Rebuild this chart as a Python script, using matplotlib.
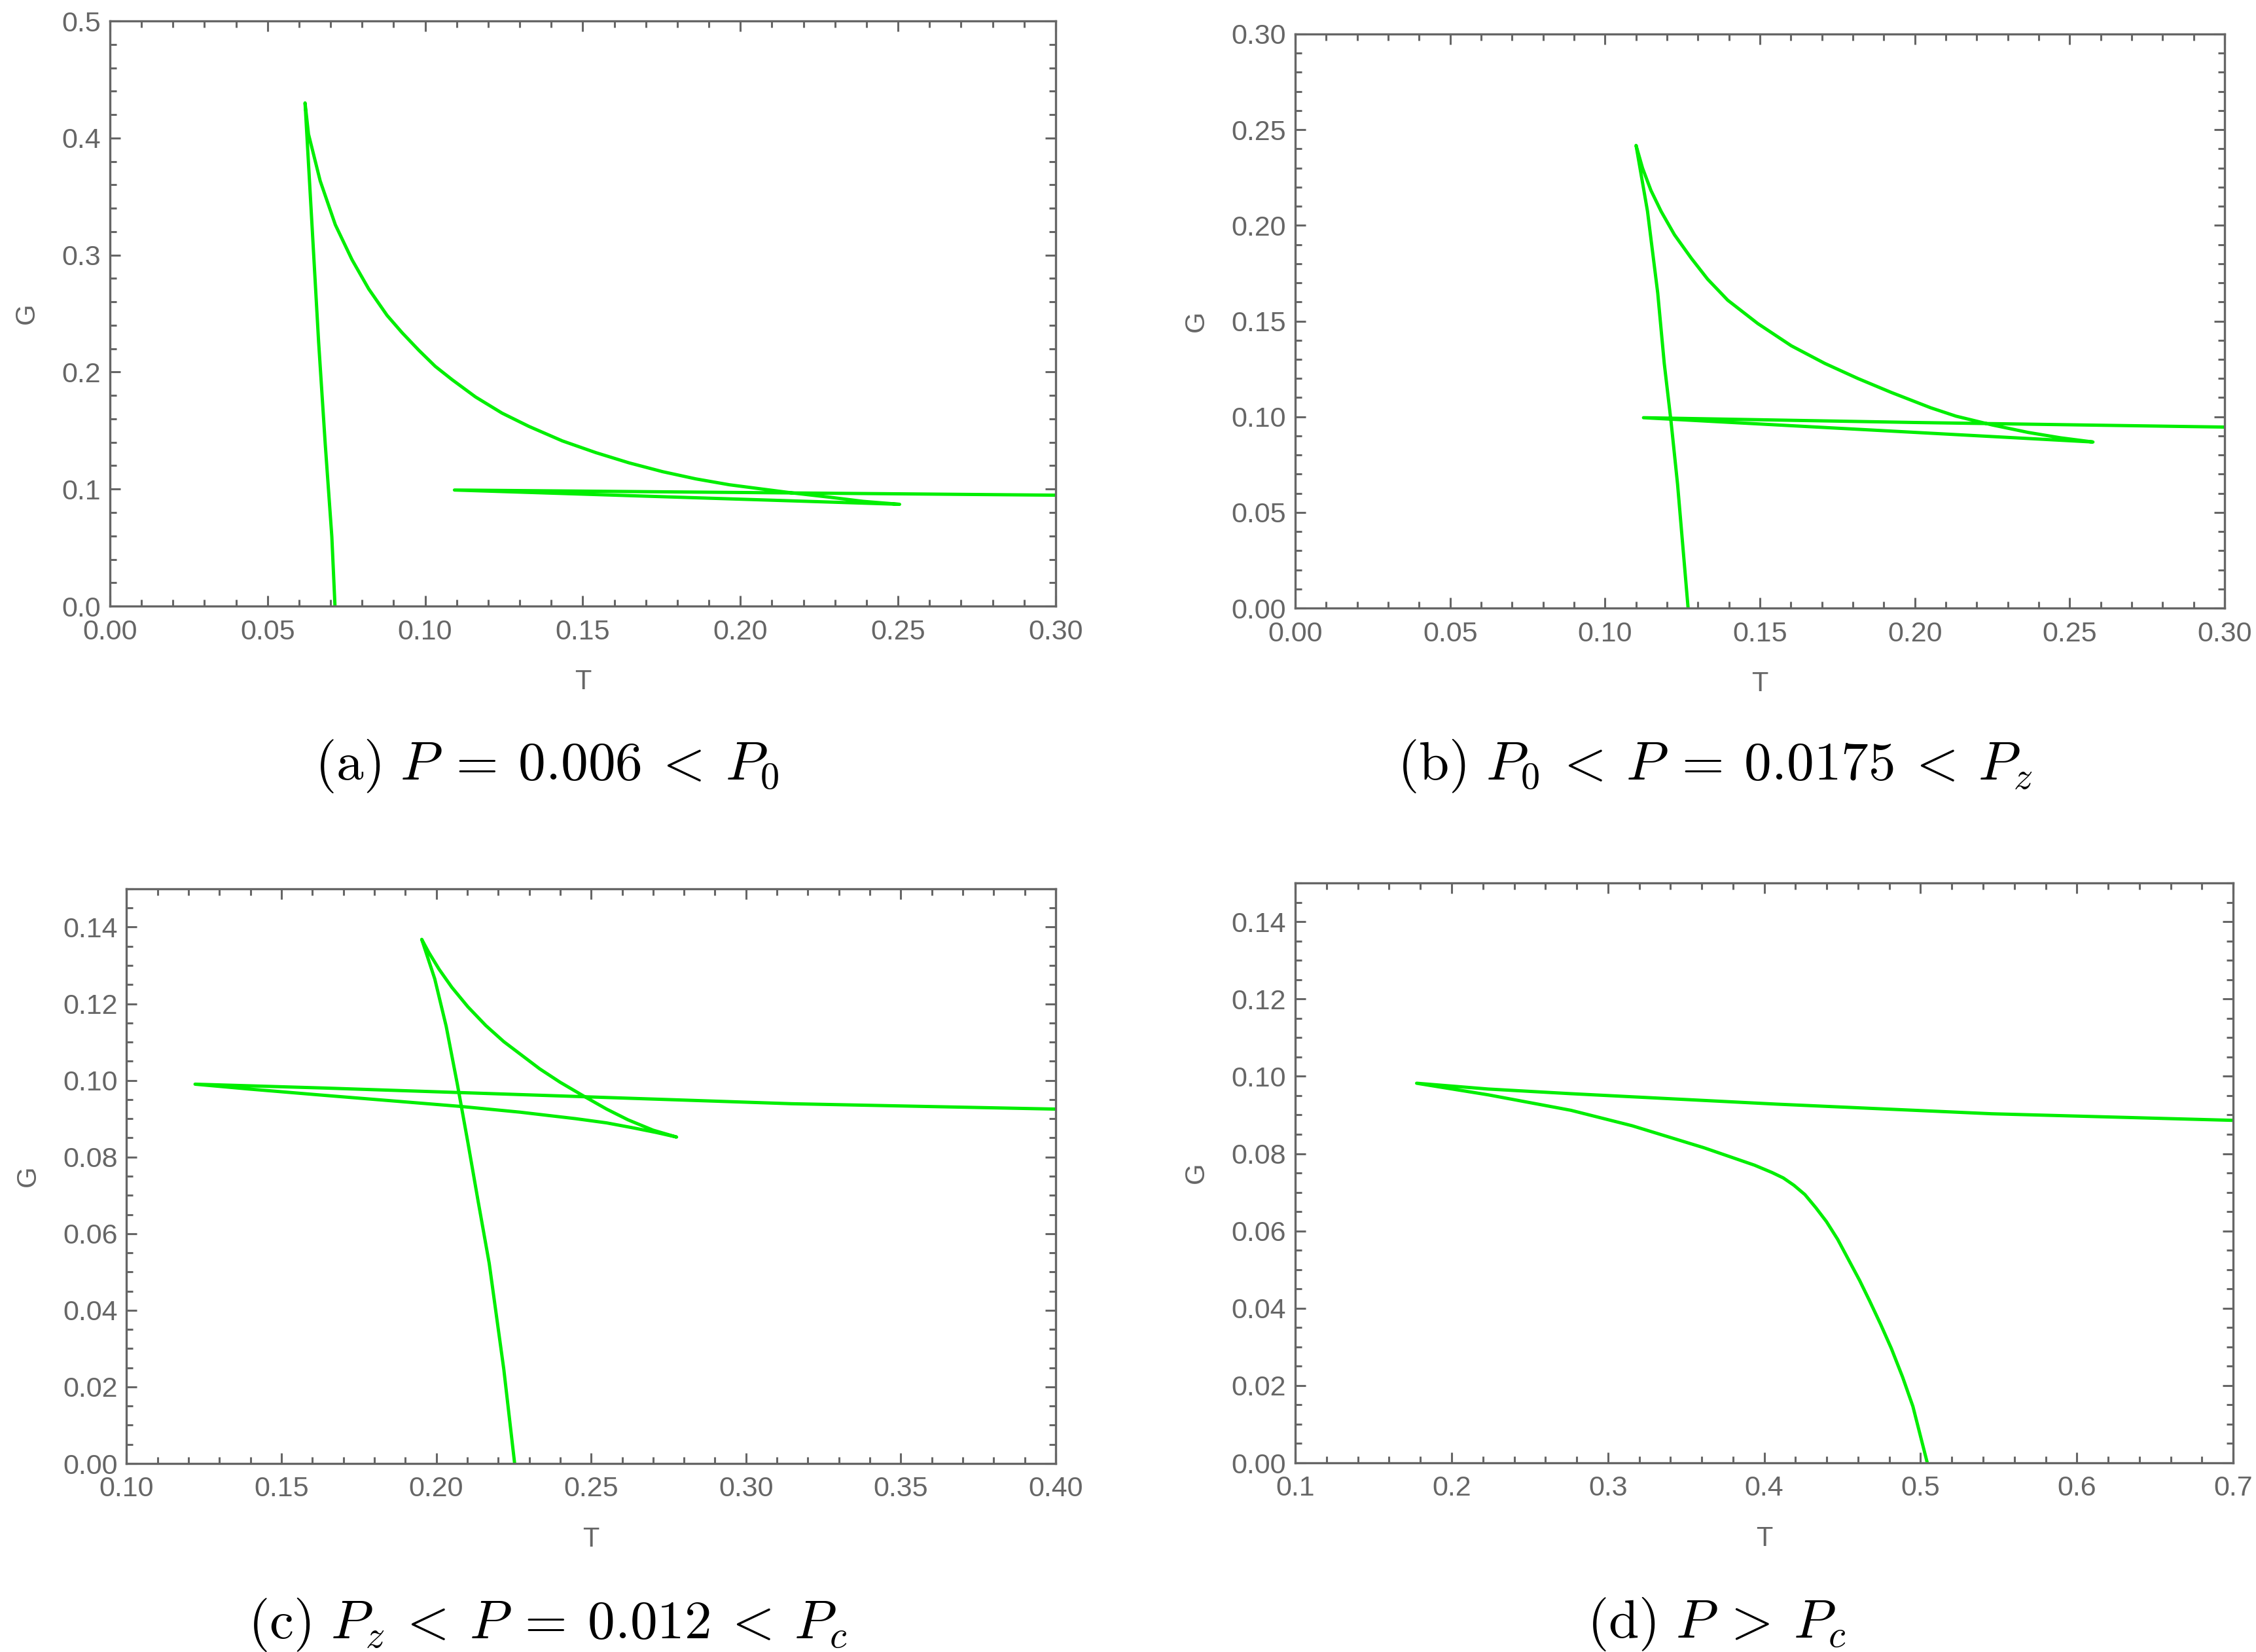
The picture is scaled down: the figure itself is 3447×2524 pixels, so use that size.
import matplotlib
matplotlib.use('Agg')
import matplotlib.pyplot as plt
from matplotlib.ticker import MultipleLocator, FormatStrFormatter

plt.rcParams['font.family'] = ['Liberation Sans', 'DejaVu Sans']
plt.rcParams['mathtext.fontset'] = 'cm'

# (a) P = 0.006 : steep branch, upper curve, return line, outer line
T_a = [0.0714, 0.0704, 0.0683, 0.0662, 0.0641, 0.0619,
       0.0630, 0.0667, 0.0715, 0.0768, 0.0821, 0.0879, 0.0927, 0.0980, 0.1032,
       0.1085, 0.1160, 0.1244, 0.1329, 0.1435, 0.1541, 0.1647, 0.1753, 0.1859,
       0.1965, 0.2070, 0.2162, 0.2276, 0.2390, 0.2505,
       0.1093,
       0.2000, 0.3000, 0.3100]
G_a = [0.000, 0.0593, 0.1387, 0.2260, 0.3260, 0.4300,
       0.4033, 0.3634, 0.3259, 0.2960, 0.2710, 0.2485, 0.2336, 0.2186, 0.2049,
       0.1936, 0.1787, 0.1649, 0.1536, 0.1412, 0.1312, 0.1224, 0.1149, 0.1087,
       0.1037, 0.1000, 0.0968, 0.0933, 0.0895, 0.0870,
       0.0992,
       0.0971, 0.0948, 0.0947]

# (b) P = 0.0175
T_b = [0.1268, 0.1234, 0.1213, 0.1191, 0.1170, 0.1137, 0.1100,
       0.1121, 0.1148, 0.1181, 0.1224, 0.1278, 0.1331, 0.1396, 0.1493, 0.1601,
       0.1709, 0.1816, 0.1924, 0.2051, 0.2133, 0.2250, 0.2366, 0.2470, 0.2575,
       0.1124,
       0.2000, 0.3000, 0.3100]
G_b = [0.000, 0.0647, 0.0974, 0.1279, 0.1646, 0.2073, 0.2418,
       0.2299, 0.2183, 0.2073, 0.1951, 0.1829, 0.1719, 0.1609, 0.1487, 0.1371,
       0.1279, 0.1200, 0.1127, 0.1047, 0.1003, 0.0957, 0.0918, 0.0890, 0.0868,
       0.0995,
       0.0970, 0.0946, 0.0945]

# (c) P = 0.012
T_c = [0.2253, 0.2218, 0.2171, 0.2135, 0.2102, 0.2068, 0.2032, 0.1995, 0.1953,
       0.1975, 0.2009, 0.2050, 0.2102, 0.2160, 0.2218, 0.2334, 0.2400, 0.2478,
       0.2550, 0.2619, 0.2700, 0.2776,
       0.2710, 0.2636, 0.2550, 0.2450, 0.2270, 0.2078, 0.1850, 0.1637, 0.1400, 0.1221,
       0.1637, 0.2450, 0.3147, 0.4000, 0.4100]
G_c = [0.000, 0.0246, 0.0522, 0.0685, 0.0838, 0.0990, 0.1141, 0.1265, 0.1368,
       0.1335, 0.1290, 0.1243, 0.1192, 0.1143, 0.1101, 0.1030, 0.0995, 0.0958,
       0.0925, 0.0897, 0.0870, 0.0852,
       0.0864, 0.0876, 0.0889, 0.0900, 0.0917, 0.0932, 0.0947, 0.0961, 0.0977, 0.0990,
       0.0980, 0.0958, 0.0939, 0.0925, 0.0923]

# (d) P > Pc
T_d = [0.7100, 0.7000, 0.5457, 0.4076, 0.2763, 0.2234, 0.1776,
       0.2234, 0.2763, 0.3155, 0.3615, 0.3938, 0.4050, 0.4122, 0.4190, 0.4260,
       0.4330, 0.4398, 0.4470, 0.4536, 0.4610, 0.4674, 0.4745, 0.4813, 0.4885,
       0.4951, 0.5043]
G_d = [0.0885, 0.0886, 0.0903, 0.0928, 0.0955, 0.0967, 0.0982,
       0.0952, 0.0912, 0.0872, 0.0815, 0.0770, 0.0751, 0.0737, 0.0718, 0.0694,
       0.0660, 0.0624, 0.0578, 0.0528, 0.0472, 0.0419, 0.0358, 0.0296, 0.0222,
       0.0146, 0.000]

titles = [r'$\mathrm{(a)}\ P\:=\:0.006\:<\:P_0$',
          r'$\mathrm{(b)}\ P_0\:<\:P\:=\:0.0175\:<\:P_z$',
          r'$\mathrm{(c)}\ P_z\:<\:P\:=\:0.012\:<\:P_c$',
          r'$\mathrm{(d)}\ P\:>\:P_c$']

gray = '#666666'
green = '#00ee00'

fig = plt.figure(figsize=(17.24, 12.62), dpi=200)

# panel rect, data, limits, major/minor steps, tick formats
panels = [
    ([0.0487, 0.6331, 0.4191, 0.3542], T_a, G_a, (0, 0.3), (0, 0.5), 0.05, 0.01, 0.1, 0.02, '%.2f', '%.1f'),
    ([0.5740, 0.6319, 0.4118, 0.3475], T_b, G_b, (0, 0.3), (0, 0.3), 0.05, 0.01, 0.05, 0.01, '%.2f', '%.2f'),
    ([0.0561, 0.1141, 0.4117, 0.3479], T_c, G_c, (0.1, 0.4), (0, 0.15), 0.05, 0.01, 0.02, 0.005, '%.2f', '%.2f'),
    ([0.5740, 0.1145, 0.4156, 0.3510], T_d, G_d, (0.1, 0.7), (0, 0.15), 0.1, 0.02, 0.02, 0.005, '%.1f', '%.2f'),
]

for rect, T, G, xl, yl, xmaj, xmin, ymaj, ymin, xf, yf in panels:
    ax = fig.add_axes(rect)
    ax.plot(T, G, color=green, linewidth=1.8, solid_joinstyle='round')
    ax.set_xlim(*xl)
    ax.set_ylim(*yl)
    ax.xaxis.set_major_locator(MultipleLocator(xmaj))
    ax.xaxis.set_minor_locator(MultipleLocator(xmin))
    ax.yaxis.set_major_locator(MultipleLocator(ymaj))
    ax.yaxis.set_minor_locator(MultipleLocator(ymin))
    ax.xaxis.set_major_formatter(FormatStrFormatter(xf))
    ax.yaxis.set_major_formatter(FormatStrFormatter(yf))
    ax.tick_params(which='both', direction='in', top=True, right=True,
                   color=gray, width=1.1, labelcolor=gray, labelsize=15.5)
    ax.tick_params(which='major', length=5.8)
    ax.tick_params(which='minor', length=3.6)
    ax.tick_params(axis='x', pad=7)
    ax.tick_params(axis='y', pad=5)
    for s in ax.spines.values():
        s.set_color(gray)
        s.set_linewidth(1.2)
    ax.set_xlabel('T', color=gray, fontsize=15, labelpad=13)
    ax.set_ylabel('G', color=gray, fontsize=15, labelpad=12)

fig.text(0.2425, 0.5281, titles[0], ha='center', va='baseline', fontsize=30)
fig.text(0.7600, 0.5281, titles[1], ha='center', va='baseline', fontsize=30)
fig.text(0.2427, 0.0083, titles[2], ha='center', va='baseline', fontsize=30)
fig.text(0.7607, 0.0087, titles[3], ha='center', va='baseline', fontsize=30)

fig.savefig('out.png', dpi=200)
